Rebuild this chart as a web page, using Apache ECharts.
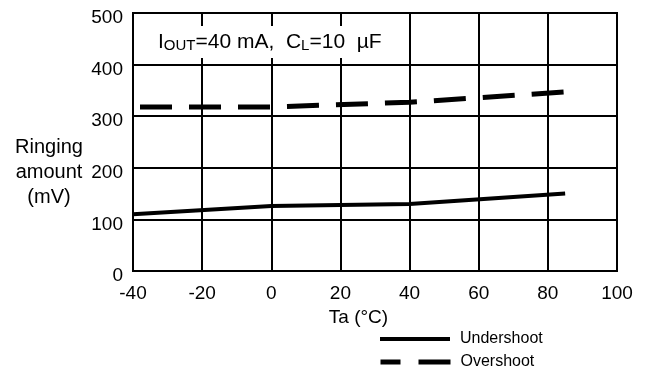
<!DOCTYPE html>
<html>
<head>
<meta charset="utf-8">
<script src="https://cdn.jsdelivr.net/npm/echarts@6/dist/echarts.min.js"></script>
<style>html,body{margin:0;padding:0;background:#fff;}#c{width:646px;height:378px;}</style>
</head>
<body>
<div id="c"></div>
<script>
var xTicks = [-40, -20, 0, 20, 40, 60, 80, 100];
var yTicks = [0, 100, 200, 300, 400, 500];
var underTemp = [-40, 0, 40, 85];
var underVals = [110, 126, 130, 150];
var overTemp = [-40, 0, 40, 85];
var overVals = [318, 318, 327, 347];
var seriesNames = ['Undershoot', 'Overshoot'];

function pairs(xs, ys) { return xs.map(function (x, i) { return [x, ys[i]]; }); }

var FONT = 'Liberation Sans, Arial, sans-serif';
var legendText = {fontSize: 16, fontFamily: FONT, color: '#000', padding: [0, 0, 0, 5]};
var chart = echarts.init(document.getElementById('c'), null, {renderer: 'canvas'});
chart.setOption({
  animation: false,
  backgroundColor: '#fff',
  textStyle: {fontFamily: FONT, color: '#000', fontWeight: 'normal'},
  grid: {left: 133, right: 29, top: 13, bottom: 107, show: true, borderColor: '#000', borderWidth: 2, backgroundColor: 'transparent'},
  title: {
    left: 134, top: 23, padding: [6, 12, 5, 24], backgroundColor: '#fff',
    text: '{m|I}{s|OUT}{m|=40 mA,  C}{s|L}{m|=10  \u00b5F}',
    textStyle: {
      fontWeight: 'normal',
      rich: {
        m: {fontSize: 21, fontFamily: FONT, fontWeight: 'normal', color: '#000', verticalAlign: 'bottom', lineHeight: 24},
        s: {fontSize: 15, fontFamily: FONT, fontWeight: 'normal', color: '#000', verticalAlign: 'bottom', lineHeight: 19}
      }
    }
  },
  legend: [
    {left: 373, top: 326, itemWidth: 70, itemHeight: 14, data: [seriesNames[0]], textStyle: legendText,
      itemStyle: {color: 'rgba(0,0,0,0)', borderWidth: 0},
      lineStyle: {color: '#000', width: 4, type: 'solid'}},
    {left: 373, top: 349, itemWidth: 70, itemHeight: 14, data: [seriesNames[1]], textStyle: legendText,
      itemStyle: {color: 'rgba(0,0,0,0)', borderWidth: 0},
      lineStyle: {color: '#000', width: 5, type: [20, 18, 32, 0], dashOffset: 0}}
  ],
  xAxis: {
    type: 'value', min: xTicks[0], max: xTicks[xTicks.length - 1], interval: 20,
    axisLine: {show: true, lineStyle: {color: '#000', width: 2}},
    axisTick: {show: false},
    splitLine: {show: true, lineStyle: {color: '#000', width: 2}},
    axisLabel: {fontSize: 19, fontFamily: FONT, color: '#000', margin: 13},
    name: 'Ta (\u00b0C)', nameLocation: 'middle', nameGap: 28,
    nameTextStyle: {fontSize: 19, fontFamily: FONT, color: '#000', padding: [0, 33, 0, 0]}
  },
  yAxis: {
    type: 'value', min: yTicks[0], max: yTicks[yTicks.length - 1], interval: 100,
    axisLine: {show: true, lineStyle: {color: '#000', width: 2}},
    axisTick: {show: false},
    splitLine: {show: true, lineStyle: {color: '#000', width: 2}},
    axisLabel: {
      margin: 10,
      formatter: function (v) { return '{v|' + v + '}'; },
      rich: {v: {fontSize: 19, fontFamily: FONT, color: '#000', padding: [10, 0, 0, 0]}}
    },
    name: '{sp| }\n{t|Ringing}\n{t|amount}\n{t|(mV)}', nameLocation: 'middle', nameRotate: 0, nameGap: 84,
    nameTextStyle: {
      align: 'center', verticalAlign: 'middle',
      rich: {
        sp: {fontSize: 10, lineHeight: 60},
        t: {fontSize: 20, fontFamily: FONT, color: '#000', lineHeight: 25}
      }
    }
  },
  series: [
    {name: seriesNames[0], type: 'line', data: pairs(underTemp, underVals), symbol: 'none', z: 5,
      lineStyle: {color: '#000', width: 4}, itemStyle: {color: '#000'}},
    {name: seriesNames[1], type: 'line', data: pairs(overTemp, overVals), symbol: 'none', z: 5,
      lineStyle: {color: '#000', width: 5, type: [32, 17], dashOffset: 42}, itemStyle: {color: '#000'}}
  ]
});
</script>
</body>
</html>
